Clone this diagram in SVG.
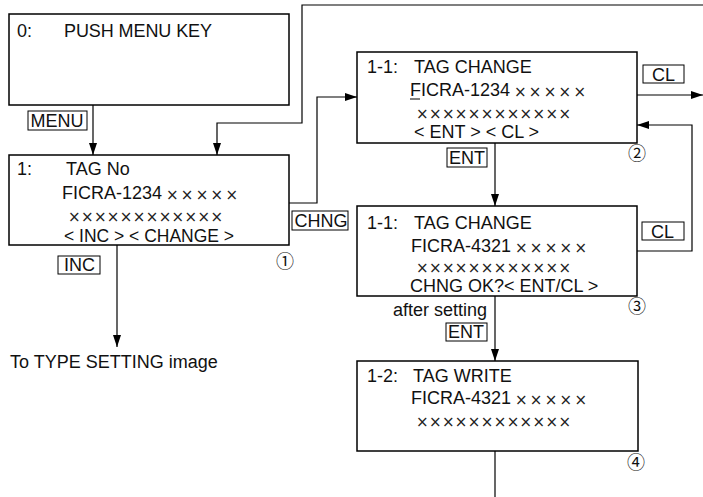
<svg xmlns="http://www.w3.org/2000/svg" width="703" height="497" viewBox="0 0 703 497">
<defs>
<marker id="ah" markerUnits="userSpaceOnUse" markerWidth="12" markerHeight="8" refX="12" refY="4" orient="auto">
<path d="M0,0 L12,4 L0,8 z" fill="#000"/>
</marker>
<style>
.box{fill:#fff;stroke:#000;stroke-width:1.5}
.lbl{fill:#fff;stroke:#000;stroke-width:1}
.t{font-family:"Liberation Sans",Arial,sans-serif;font-size:18px;fill:#111}
.x{font-family:"DejaVu Sans","Liberation Sans",sans-serif;font-size:15px;fill:#222}
.c{font-family:"Noto Sans CJK JP","DejaVu Sans",sans-serif;font-size:18px;fill:#111;text-anchor:middle}
.ln{fill:none;stroke:#000;stroke-width:1.2}
</style>
</defs>
<g id="connectors">
<line class="ln" x1="93" y1="105" x2="93" y2="155" marker-end="url(#ah)"/>
<polyline class="ln" points="703,5 302,5 302,123 217,123 217,155" marker-end="url(#ah)"/>
<polyline class="ln" points="289,203 317,203 317,97 357,97" marker-end="url(#ah)"/>
<line class="ln" x1="637" y1="95" x2="703" y2="95" marker-end="url(#ah)"/>
<line class="ln" x1="495" y1="143" x2="495" y2="206" marker-end="url(#ah)"/>
<polyline class="ln" points="637,251 692,251 692,125 637,125" marker-end="url(#ah)"/>
<line class="ln" x1="495" y1="296" x2="495" y2="361" marker-end="url(#ah)"/>
<line class="ln" x1="495" y1="451" x2="495" y2="497"/>
<line class="ln" x1="117" y1="245" x2="117" y2="347" marker-end="url(#ah)"/>
</g>
<g id="labels">
<rect class="lbl" x="28" y="111" width="59" height="19"/>
<text class="t" x="30.5" y="127">MENU</text>
<rect class="lbl" x="58" y="256" width="42" height="18"/>
<text class="t" x="64" y="271">INC</text>
<rect class="lbl" x="292" y="211" width="56" height="19"/>
<text class="t" x="294.5" y="227">CHNG</text>
<rect class="lbl" x="447" y="148" width="40" height="19"/>
<text class="t" x="449" y="164">ENT</text>
<rect class="lbl" x="446" y="323" width="41" height="18"/>
<text class="t" x="448" y="338">ENT</text>
<rect class="lbl" x="643" y="65" width="41" height="18"/>
<text class="t" x="652" y="81">CL</text>
<rect class="lbl" x="642" y="222" width="42" height="18"/>
<text class="t" x="651" y="238">CL</text>
<text class="t" x="393" y="316">after setting</text>
<text class="t" x="10" y="368">To TYPE SETTING image</text>
<text class="c" x="285" y="268">①</text>
<text class="c" x="637" y="160">②</text>
<text class="c" x="637" y="313">③</text>
<text class="c" x="636" y="469">④</text>
</g>
<g id="node0">
<rect class="box" x="9" y="14" width="280" height="91"/>
<text class="t" x="17" y="37">0:</text>
<text class="t" x="64" y="37" textLength="148" lengthAdjust="spacing">PUSH MENU KEY</text>
</g>
<g id="node1">
<rect class="box" x="9" y="155" width="280" height="90"/>
<text class="t" x="17" y="175">1:</text>
<text class="t" x="66" y="175">TAG No</text>
<text class="t" x="62" y="199">FICRA-1234</text>
<text class="x" x="166" y="200" textLength="72" lengthAdjust="spacing">×××××</text>
<text class="x" x="68" y="222" textLength="155" lengthAdjust="spacing">××××××××××××</text>
<text class="t" x="64" y="242" textLength="170" lengthAdjust="spacingAndGlyphs">&lt; INC &gt; &lt; CHANGE &gt;</text>
</g>
<g id="node11">
<rect class="box" x="357" y="52" width="280" height="91"/>
<text class="t" x="367" y="73">1-1:</text>
<text class="t" x="414" y="73">TAG CHANGE</text>
<text class="t" x="410" y="96">FICRA-1234</text>
<line x1="410" y1="99" x2="420" y2="99" stroke="#000" stroke-width="1"/>
<text class="x" x="514" y="97" textLength="72" lengthAdjust="spacing">×××××</text>
<text class="x" x="416" y="119" textLength="155" lengthAdjust="spacing">××××××××××××</text>
<text class="t" x="414" y="138">&lt; ENT &gt; &lt; CL &gt;</text>
</g>
<g id="node11b">
<rect class="box" x="357" y="206" width="280" height="90"/>
<text class="t" x="367" y="229">1-1:</text>
<text class="t" x="414" y="229">TAG CHANGE</text>
<text class="t" x="411" y="252">FICRA-4321</text>
<text class="x" x="515" y="253" textLength="72" lengthAdjust="spacing">×××××</text>
<text class="x" x="416" y="273" textLength="155" lengthAdjust="spacing">××××××××××××</text>
<text class="t" x="410" y="292">CHNG OK?&lt; ENT/CL &gt;</text>
</g>
<g id="node12">
<rect class="box" x="357" y="361" width="281" height="90"/>
<text class="t" x="367" y="382">1-2:</text>
<text class="t" x="413" y="382">TAG WRITE</text>
<text class="t" x="411" y="404">FICRA-4321</text>
<text class="x" x="515" y="405" textLength="72" lengthAdjust="spacing">×××××</text>
<text class="x" x="416" y="427" textLength="155" lengthAdjust="spacing">××××××××××××</text>
</g>
</svg>
